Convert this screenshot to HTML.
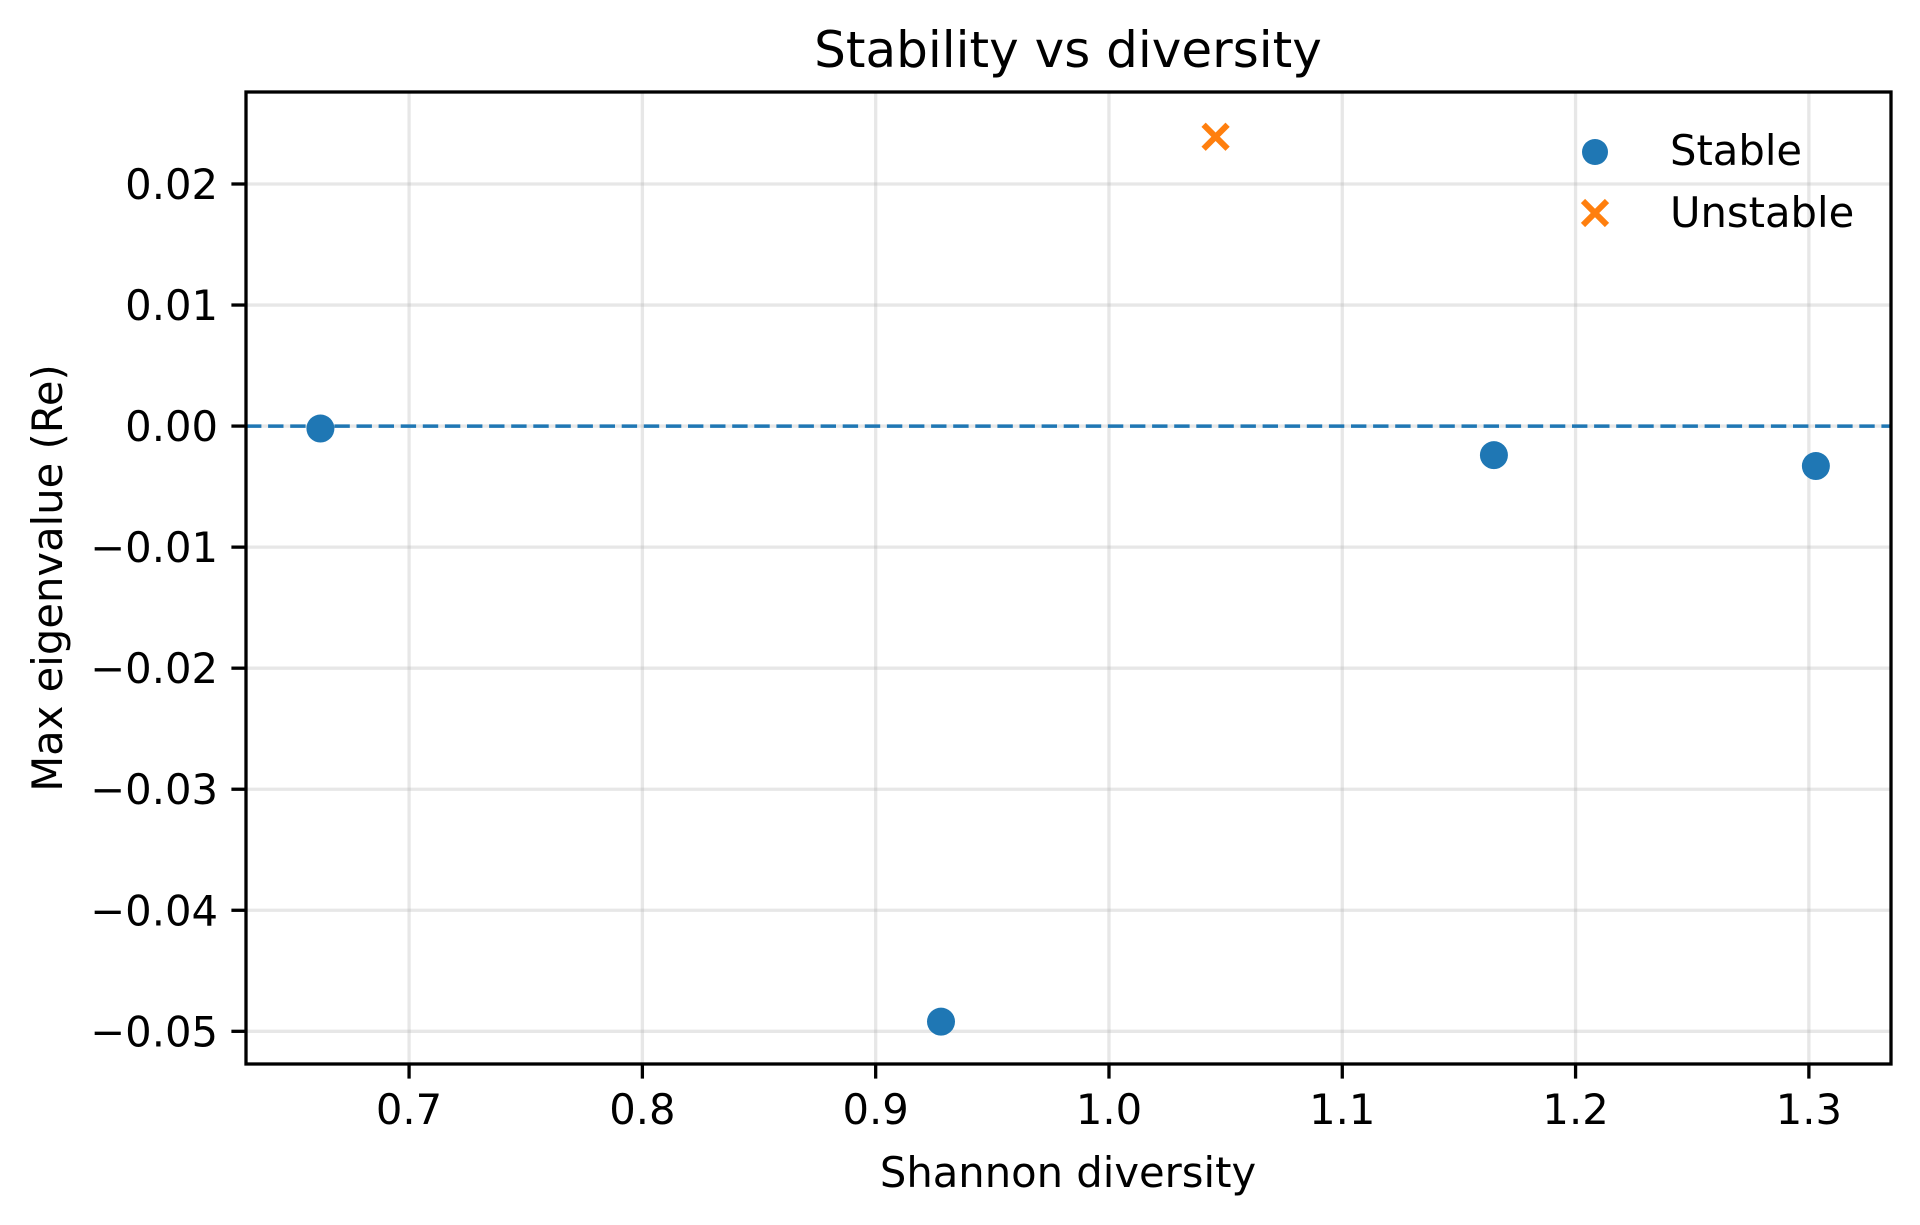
<!DOCTYPE html>
<html><head><meta charset="utf-8"><style>
html,body{margin:0;padding:0;background:#fff}
svg{display:block;font-family:"DejaVu Sans","Liberation Sans",sans-serif}
</style></head><body>
<svg id="chart" width="1920" height="1225" viewBox="0 0 1920 1225">
<rect width="1920" height="1225" fill="#fff"/>
<g id="grid"></g>
<g id="marks"></g>
<rect x="246" y="92" width="1645" height="972" fill="none" stroke="#000" stroke-width="3.3"/>
<g id="ticks"></g>
<text x="1068" y="67" text-anchor="middle" font-size="50">Stability vs diversity</text>
<text x="1068" y="1187" text-anchor="middle" font-size="41.7">Shannon diversity</text>
<text x="0" y="0" transform="translate(62,578) rotate(-90)" text-anchor="middle" font-size="41.7">Max eigenvalue (Re)</text>
<g>
<circle cx="1595" cy="152" r="13" fill="#1f77b4"/>
<text x="1670" y="165" font-size="41.7">Stable</text>
<path d="M1583,201 L1607,225 M1607,201 L1583,225" stroke="#ff7f0e" stroke-width="6"/>
<text x="1670" y="227" font-size="41.7">Unstable</text>
</g>
</svg>
<script>
const xTicks=[0.7,0.8,0.9,1.0,1.1,1.2,1.3];
const xTickLabels=["0.7","0.8","0.9","1.0","1.1","1.2","1.3"];
const yTicks=[0.02,0.01,0,-0.01,-0.02,-0.03,-0.04,-0.05];
const yTickLabels=["0.02","0.01","0.00","\u22120.01","\u22120.02","\u22120.03","\u22120.04","\u22120.05"];
const stableX=[0.662,0.928,1.165,1.303];
const stableY=[-0.0002,-0.0492,-0.0024,-0.0033];
const unstableX=[1.0457];
const unstableY=[0.0239];
const refY=0;
const L=246,R=1891,T=92,B=1064;
const xMin=0.6301,xMax=1.3352,yMin=-0.0527,yMax=0.0276;
function sx(v){return L+(v-xMin)/(xMax-xMin)*(R-L);}
function sy(v){return B-(v-yMin)/(yMax-yMin)*(B-T);}
const NS="http://www.w3.org/2000/svg";
function mk(tag,attrs,parent){const e=document.createElementNS(NS,tag);for(const k in attrs)e.setAttribute(k,attrs[k]);parent.appendChild(e);return e;}
const grid=document.getElementById('grid'),ticks=document.getElementById('ticks'),marks=document.getElementById('marks');
xTicks.forEach((t,i)=>{
 const x=sx(t);
 const g=mk('line',{x1:x,x2:x,y1:T,y2:B,stroke:'#b0b0b0','stroke-opacity':0.3,'stroke-width':3.3},grid);
 
 
 const tk=mk('line',{x1:x,x2:x,y1:B,y2:B+14.6,stroke:'#000','stroke-width':3.3},ticks);
 
 
 const tx=mk('text',{x:x,y:B+60,'text-anchor':'middle','font-size':41.7},ticks);
 tx.textContent=xTickLabels[i];
 
 
});
yTicks.forEach((t,i)=>{
 const y=sy(t);
 const g=mk('line',{x1:L,x2:R,y1:y,y2:y,stroke:'#b0b0b0','stroke-opacity':0.3,'stroke-width':3.3},grid);
 
 
 const tk=mk('line',{x1:L-14.6,x2:L,y1:y,y2:y,stroke:'#000','stroke-width':3.3},ticks);
 
 
 const tx=mk('text',{x:L-28,y:y+15,'text-anchor':'end','font-size':41.7},ticks);
 tx.textContent=yTickLabels[i];
 
 
});
const ref=mk('line',{x1:L,x2:R,y1:sy(refY),y2:sy(refY),stroke:'#1f77b4','stroke-width':3.5,'stroke-dasharray':'15.4 6.7'},marks);


stableX.forEach((v,i)=>{
 const c=mk('circle',{cx:sx(v),cy:sy(stableY[i]),r:14,fill:'#1f77b4'},marks);
 
 
});
unstableX.forEach((v,i)=>{
 const x=sx(v),y=sy(unstableY[i]),d=12;
 const p=mk('path',{d:`M${x-d},${y-d} L${x+d},${y+d} M${x+d},${y-d} L${x-d},${y+d}`,stroke:'#ff7f0e','stroke-width':6},marks);
 
 
});
</script>
</body></html>
